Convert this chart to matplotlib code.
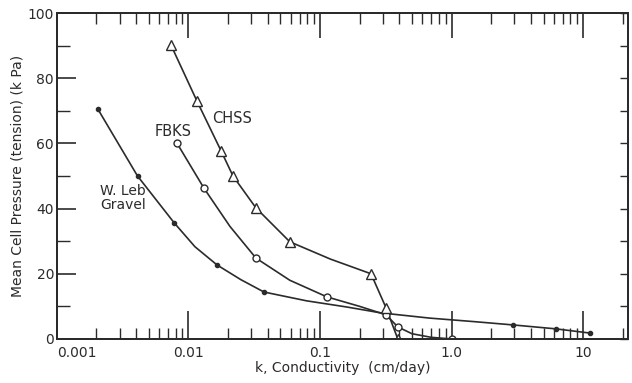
import matplotlib.pyplot as plt
import matplotlib.ticker as mticker
import numpy as np

# measured points (markers)
wleb_k = [0.00205, 0.0041, 0.0078, 0.0165, 0.0375, 2.94, 6.2, 11.3]
wleb_p = [70.5, 50.0, 35.6, 22.7, 14.4, 4.3, 3.1, 1.8]
fbks_k = [0.0082, 0.0131, 0.0326, 0.113, 0.318, 0.39, 1.0]
fbks_p = [60.0, 46.3, 24.8, 12.9, 7.4, 3.7, 0.0]
chss_k = [0.00736, 0.0116, 0.0177, 0.0218, 0.0326, 0.059, 0.244, 0.318, 0.39]
chss_p = [90.2, 73.0, 57.7, 50.0, 40.2, 29.8, 20.0, 9.5, 0.0]

# curves
wleb_line_k = [0.00205, 0.0041, 0.0078, 0.0112, 0.0165, 0.025, 0.0375, 0.079, 0.16, 0.29, 0.68, 1.5, 2.94, 6.2, 11.3]
wleb_line_p = [70.5, 50.0, 35.6, 28.3, 22.7, 18.2, 14.4, 11.7, 9.8, 8.0, 6.4, 5.3, 4.3, 3.1, 1.8]
fbks_line_k = [0.0082, 0.0131, 0.0207, 0.0326, 0.059, 0.113, 0.2, 0.318, 0.39, 0.5, 0.7, 1.0]
fbks_line_p = [60.0, 46.3, 34.5, 24.8, 18.0, 12.9, 10.0, 7.4, 3.7, 1.6, 0.5, 0.0]
chss_line_k = [0.00736, 0.0116, 0.0177, 0.0218, 0.0326, 0.059, 0.12, 0.244, 0.318, 0.39]
chss_line_p = [90.2, 73.0, 57.7, 50.0, 40.2, 29.8, 24.5, 20.0, 9.5, 0.0]

x_ticks = [0.001, 0.01, 0.1, 1.0, 10]
x_labels = ['0.001', '0.01', '0.1', '1.0', '10']
y_ticks = [0, 20, 40, 60, 80, 100]

ink = '#2b2b2b'
plt.rcParams['font.family'] = 'DejaVu Sans'

fig = plt.figure(figsize=(6.32, 3.83), dpi=100)
ax = fig.add_axes([0.090, 0.115, 0.904, 0.851])

ax.plot(wleb_line_k, wleb_line_p, color=ink, lw=1.2)
ax.plot(fbks_line_k, fbks_line_p, color=ink, lw=1.2)
ax.plot(chss_line_k, chss_line_p, color=ink, lw=1.2)
ax.plot(wleb_k, wleb_p, 'o', color=ink, ms=3)
ax.plot(fbks_k, fbks_p, 'o', mfc='white', mec=ink, mew=1, ms=5)
ax.plot(chss_k, chss_p, '^', mfc='white', mec=ink, mew=1, ms=7)

ax.set_xscale('log')
ax.set_xlim(0.001, 22)
ax.set_ylim(0, 100)
ax.set_xticks(x_ticks)
ax.set_xticklabels(x_labels)
ax.xaxis.set_minor_locator(mticker.LogLocator(base=10, subs=np.arange(2, 10)))
ax.xaxis.set_minor_formatter(mticker.NullFormatter())
ax.set_yticks(y_ticks)
ax.yaxis.set_minor_locator(mticker.MultipleLocator(10))

ax.tick_params(axis='x', which='major', direction='in', length=20, width=1.2, color=ink,
               labelsize=10, labelcolor=ink, pad=5)
ax.tick_params(axis='x', which='minor', direction='in', length=8, width=1.0, color=ink)
ax.tick_params(axis='y', which='major', direction='in', length=14, width=1.2, color=ink,
               labelsize=10, labelcolor=ink, pad=2)
ax.tick_params(axis='y', which='minor', direction='in', length=9, width=1.0, color=ink)
# first x label sits right of its tick, as in the original
ax.get_xticklabels()[0].set_horizontalalignment('left')

# top ticks
axt = ax.twiny()
axt.set_xscale('log')
axt.set_xlim(ax.get_xlim())
axt.set_xticks(x_ticks)
axt.xaxis.set_minor_locator(mticker.LogLocator(base=10, subs=np.arange(2, 10)))
axt.tick_params(axis='x', which='major', direction='in', length=18, width=1.2, color=ink,
                labeltop=False)
axt.tick_params(axis='x', which='minor', direction='in', length=8, width=1.0, color=ink)
axt.xaxis.set_minor_formatter(mticker.NullFormatter())

# right ticks
axr = ax.twinx()
axr.set_ylim(0, 100)
axr.set_yticks(np.arange(0, 101, 10))
axr.tick_params(axis='y', direction='in', length=6, width=1.0, color=ink, labelright=False)

for a in (ax, axt, axr):
    for s in a.spines.values():
        s.set_color(ink)
        s.set_linewidth(1.4)

ax.set_xlabel('k, Conductivity  (cm/day)', fontsize=10, color=ink, labelpad=1)
ax.set_ylabel('Mean Cell Pressure (tension) (k Pa)', fontsize=10, color=ink, labelpad=2)

ax.text(0.0214, 67.5, 'CHSS', fontsize=10.5, color=ink, ha='center', va='center')
ax.text(0.0076, 63.8, 'FBKS', fontsize=10.5, color=ink, ha='center', va='center')
ax.text(0.0032, 43.2, 'W. Leb\nGravel', fontsize=10, color=ink, ha='center', va='center',
        linespacing=0.95)

fig.savefig('out.png', dpi=100)
